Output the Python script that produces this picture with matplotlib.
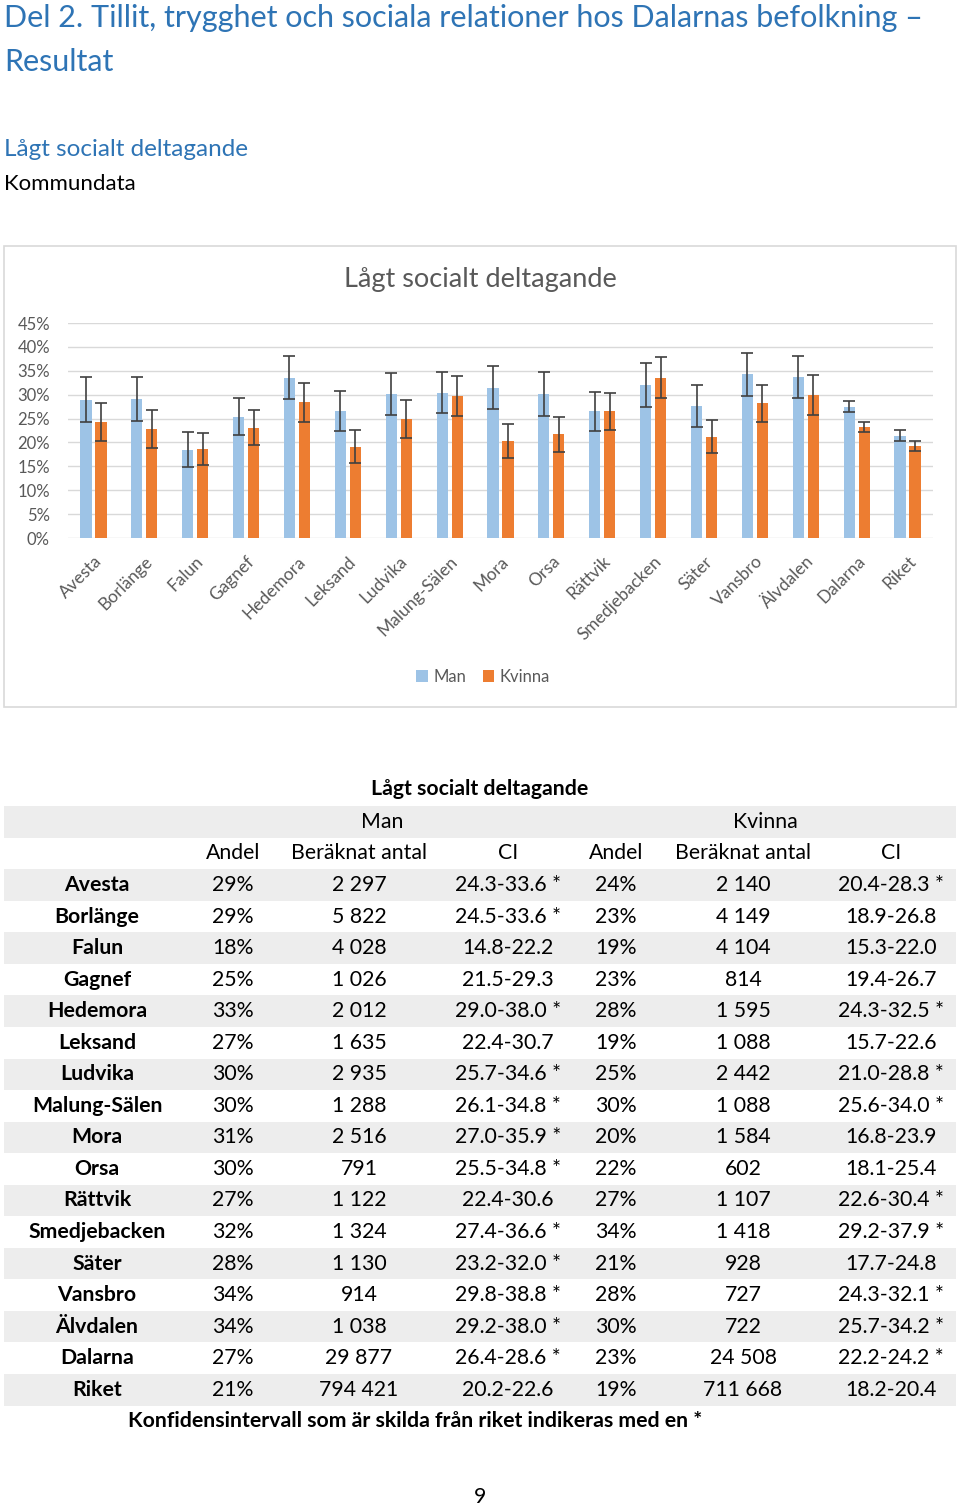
import matplotlib.pyplot as plt
from matplotlib.patches import Rectangle
from matplotlib.ticker import FuncFormatter

plt.rcParams['font.family'] = ['Lato', 'DejaVu Sans']

kommuner = ['Avesta', 'Borlänge', 'Falun', 'Gagnef', 'Hedemora', 'Leksand', 'Ludvika',
            'Malung-Sälen', 'Mora', 'Orsa', 'Rättvik', 'Smedjebacken', 'Säter', 'Vansbro',
            'Älvdalen', 'Dalarna', 'Riket']

# bar heights (percent)
man_val = [28.9, 29.0, 18.5, 25.4, 33.5, 26.5, 30.1, 30.4, 31.4, 30.1, 26.5, 32.0, 27.6,
           34.3, 33.6, 27.5, 21.4]
kvinna_val = [24.3, 22.8, 18.6, 23.0, 28.4, 19.1, 24.9, 29.8, 20.3, 21.7, 26.5, 33.5, 21.2,
              28.2, 29.9, 23.2, 19.3]

man_ci_low = [24.3, 24.5, 14.8, 21.5, 29.0, 22.4, 25.7, 26.1, 27.0, 25.5, 22.4, 27.4, 23.2,
              29.8, 29.2, 26.4, 20.2]
man_ci_high = [33.6, 33.6, 22.2, 29.3, 38.0, 30.7, 34.6, 34.8, 35.9, 34.8, 30.6, 36.6, 32.0,
               38.8, 38.0, 28.6, 22.6]
kvinna_ci_low = [20.4, 18.9, 15.3, 19.4, 24.3, 15.7, 21.0, 25.6, 16.8, 18.1, 22.6, 29.2, 17.7,
                 24.3, 25.7, 22.2, 18.2]
kvinna_ci_high = [28.3, 26.8, 22.0, 26.7, 32.5, 22.6, 28.8, 34.0, 23.9, 25.4, 30.4, 37.9, 24.8,
                  32.1, 34.2, 24.2, 20.4]
man_sig = [1, 1, 0, 0, 1, 0, 1, 1, 1, 1, 0, 1, 1, 1, 1, 1, 0]
kvinna_sig = [1, 0, 0, 0, 1, 0, 1, 1, 0, 0, 1, 1, 0, 1, 1, 1, 0]

# table values
man_andel = [29, 29, 18, 25, 33, 27, 30, 30, 31, 30, 27, 32, 28, 34, 34, 27, 21]
kvinna_andel = [24, 23, 19, 23, 28, 19, 25, 30, 20, 22, 27, 34, 21, 28, 30, 23, 19]
man_antal = ['2 297', '5 822', '4 028', '1 026', '2 012', '1 635', '2 935', '1 288', '2 516',
             '791', '1 122', '1 324', '1 130', '914', '1 038', '29 877', '794 421']
kvinna_antal = ['2 140', '4 149', '4 104', '814', '1 595', '1 088', '2 442', '1 088', '1 584',
                '602', '1 107', '1 418', '928', '727', '722', '24 508', '711 668']

W, H = 960, 1508
fig = plt.figure(figsize=(W / 100, H / 100), dpi=100)

# page layer in pixel coordinates
bg = fig.add_axes([0, 0, 1, 1])
bg.set_xlim(0, W)
bg.set_ylim(H, 0)
bg.axis('off')

blue_head = '#2E74B5'
bg.text(4, 18, 'Del 2. Tillit, trygghet och sociala relationer hos Dalarnas befolkning –',
        fontsize=22, color=blue_head, va='center', ha='left')
bg.text(4, 62, 'Resultat', fontsize=22, color=blue_head, va='center', ha='left')
bg.text(4, 149, 'Lågt socialt deltagande', fontsize=17.5, color=blue_head, va='center',
        ha='left')
bg.text(4, 184, 'Kommundata', fontsize=16, color='black', va='center', ha='left')

# chart frame
bg.add_patch(Rectangle((4, 246), 952, 461, fill=False, edgecolor='#D9D9D9', lw=1.2))
bg.text(480, 280, 'Lågt socialt deltagande', fontsize=19.5, color='#595959',
        ha='center', va='center')

# chart
ax = fig.add_axes([68 / W, 1 - 538 / H, (933 - 68) / W, (538 - 323) / H])
x = list(range(len(kommuner)))
off = 0.147
bw = 0.22
xm = [i - off for i in x]
xk = [i + off for i in x]
err_m = [[v - lo for v, lo in zip(man_val, man_ci_low)],
         [hi - v for v, hi in zip(man_val, man_ci_high)]]
err_k = [[v - lo for v, lo in zip(kvinna_val, kvinna_ci_low)],
         [hi - v for v, hi in zip(kvinna_val, kvinna_ci_high)]]
ax.bar(xm, man_val, width=bw, color='#9DC3E6', label='Man', zorder=2,
       yerr=err_m, error_kw=dict(ecolor='#404040', elinewidth=1.2, capsize=4, capthick=1.2))
ax.bar(xk, kvinna_val, width=bw, color='#ED7D31', label='Kvinna', zorder=2,
       yerr=err_k, error_kw=dict(ecolor='#404040', elinewidth=1.2, capsize=4, capthick=1.2))
ax.set_xlim(-0.5, len(kommuner) - 0.5)
ax.set_ylim(0, 45)
ax.set_yticks(range(0, 50, 5))
ax.yaxis.set_major_formatter(FuncFormatter(lambda v, p: f'{v:.0f}%'))
ax.grid(axis='y', color='#D9D9D9', lw=1, zorder=0)
ax.set_axisbelow(True)
for s in ax.spines.values():
    s.set_visible(False)
ax.tick_params(length=0, labelsize=12, labelcolor='#595959')
ax.tick_params(axis='y', pad=13)
ax.set_xticks(x)
ax.set_xticklabels(kommuner, rotation=45, ha='right', rotation_mode='anchor', fontsize=12.5)
ax.tick_params(axis='x', pad=11)
ax.patch.set_alpha(0)

fig.legend(loc='center', bbox_to_anchor=(483 / W, 1 - 677 / H), ncol=2, frameon=False,
           fontsize=12, labelcolor='#595959', handlelength=0.7, handleheight=0.7,
           handletextpad=0.3, columnspacing=1.0)

# table
fs = 15.3
bg.text(480, 789, 'Lågt socialt deltagande', fontsize=fs, fontweight='bold',
        ha='center', va='center')
stripe = '#EDEDED'
bg.add_patch(Rectangle((4, 806), 952, 32, color=stripe, lw=0))
bg.text(382, 822, 'Man', fontsize=fs, ha='center', va='center')
bg.text(765, 822, 'Kvinna', fontsize=fs, ha='center', va='center')
cols = [233, 359, 508, 616, 743, 891]
heads = ['Andel', 'Beräknat antal', 'CI', 'Andel', 'Beräknat antal', 'CI']
for cx, h in zip(cols, heads):
    bg.text(cx, 853, h, fontsize=fs, ha='center', va='center')

row_h = 31.55
for i, name in enumerate(kommuner):
    yc = 885 + i * row_h
    if i % 2 == 0:
        bg.add_patch(Rectangle((4, yc - row_h / 2), 952, row_h, color=stripe, lw=0))
    mci = f'{man_ci_low[i]:.1f}-{man_ci_high[i]:.1f}' + (' *' if man_sig[i] else '')
    kci = f'{kvinna_ci_low[i]:.1f}-{kvinna_ci_high[i]:.1f}' + (' *' if kvinna_sig[i] else '')
    cells = [f'{man_andel[i]}%', man_antal[i], mci,
             f'{kvinna_andel[i]}%', kvinna_antal[i], kci]
    bg.text(97, yc, name, fontsize=fs, fontweight='bold', ha='center', va='center')
    for cx, c in zip(cols, cells):
        bg.text(cx, yc, c, fontsize=fs, ha='center', va='center')

bg.text(415, 1421, 'Konfidensintervall som är skilda från riket indikeras med en *',
        fontsize=fs, fontweight='bold', ha='center', va='center')
bg.text(480, 1497, '9', fontsize=fs, ha='center', va='center')

fig.savefig('out.png', dpi=100)
